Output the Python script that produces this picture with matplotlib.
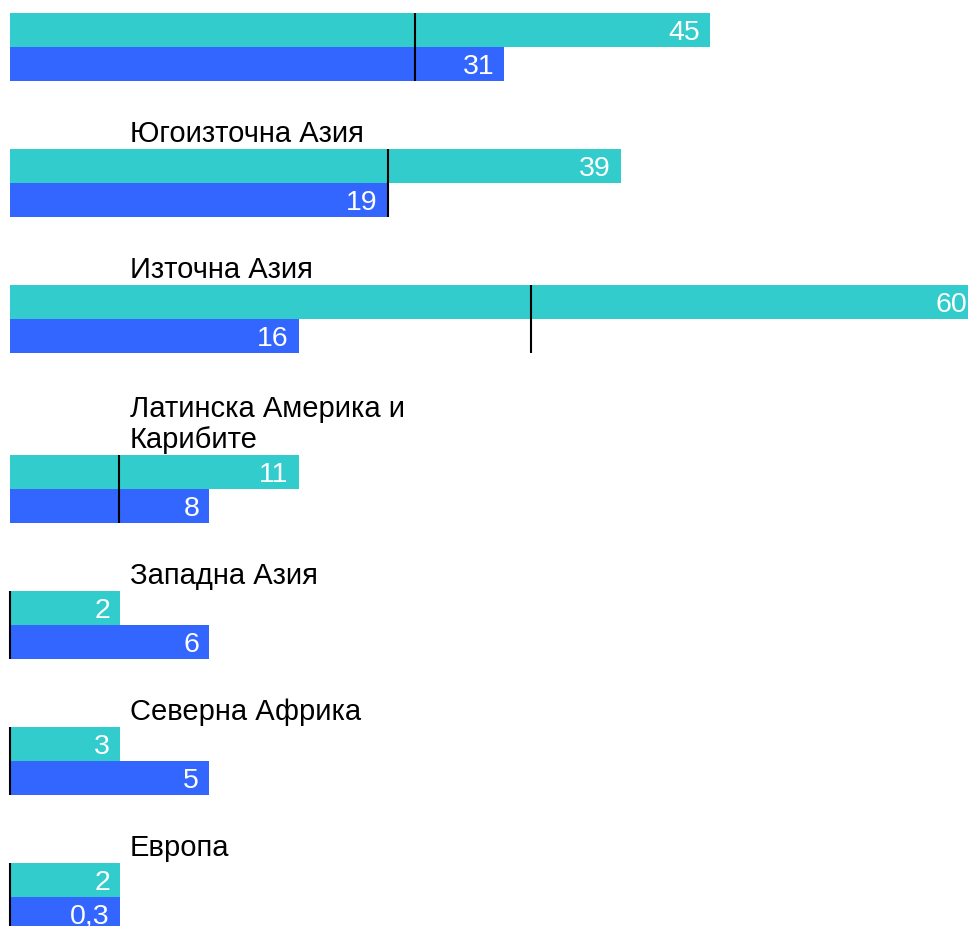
import matplotlib.pyplot as plt

plt.rcParams["font.family"] = ["Liberation Sans", "DejaVu Sans"]

# regions (the first one is cut off at the top of the picture)
regions = ["", "Югоизточна Азия", "Източна Азия", "Латинска Америка и\nКарибите",
           "Западна Азия", "Северна Африка", "Европа"]

# printed values
teal_values = [45, 39, 60, 11, 2, 3, 2]
blue_values = [31, 19, 16, 8, 6, 5, 0.3]

# drawn bar lengths (bars are not strictly proportional)
teal_len = [43.9, 38.3, 60.7, 18.1, 6.9, 6.9, 6.9]
blue_len = [31.0, 23.7, 18.1, 12.5, 12.5, 12.5, 6.9]
# black reference marks
marks = [25.4, 23.7, 32.7, 6.85, 0, 0, 0]

teal = "#33CCCC"
blue = "#3366FF"

fig = plt.figure(figsize=(9.68, 9.26), dpi=100)
ax = fig.add_axes([0, 0, 1, 1])
ax.set_xlim(-10 / 15.94, 958 / 15.94)
ax.set_ylim(926, 0)
ax.axis("off")

bar_h = 34
gap = 34
line_h = 34


def fmt(v):
    return f"{v:g}".replace(".", ",")


top = 13
for i, name in enumerate(regions):
    if i > 0:
        top += 2 * bar_h + gap + line_h * (name.count("\n") + 1)
    ax.barh(top, teal_len[i], height=bar_h, align="edge", color=teal, zorder=2)
    ax.barh(top + bar_h, blue_len[i], height=bar_h, align="edge", color=blue, zorder=2)
    ax.plot([marks[i], marks[i]], [top, top + 2 * bar_h], color="black", lw=1.5,
            zorder=3, solid_capstyle="butt")
    for y, length, v in [(top + bar_h / 2, teal_len[i], teal_values[i]),
                         (top + 1.5 * bar_h, blue_len[i], blue_values[i])]:
        ax.annotate(fmt(v), xy=(length, y), xytext=(-10, -9.5), textcoords="offset pixels",
                    ha="right", va="baseline", color="white", fontsize=20.5,
                    annotation_clip=False, zorder=4)
    if name:
        ax.annotate(name, xy=(0, top), xytext=(120, 1), textcoords="offset pixels",
                    ha="left", va="bottom", color="black", fontsize=21, linespacing=1.15)

plt.savefig("out.png", dpi=100)
